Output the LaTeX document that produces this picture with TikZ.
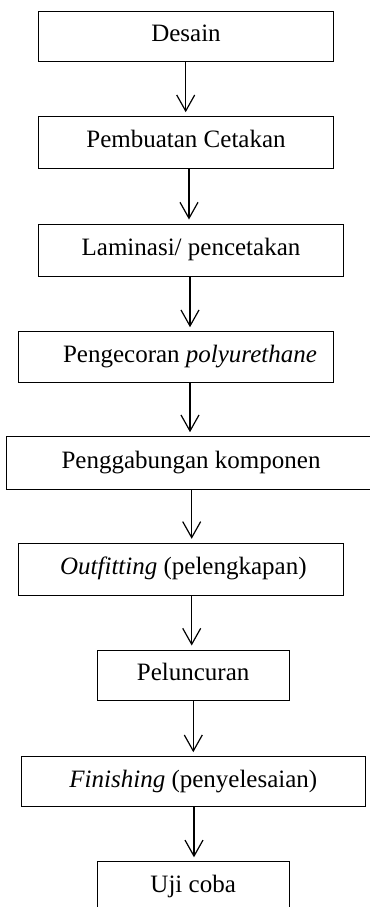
\documentclass[tikz,border=0pt]{standalone}
\usepackage{fontspec}
\setmainfont{Liberation Serif}
\usetikzlibrary{arrows.meta}
\tikzset{
  box/.style={draw, line width=0.75pt, inner sep=0pt, font=\fontsize{18.75pt}{22pt}\selectfont, text height=0.8em, text depth=0pt},
  bx/.style 2 args={minimum width=#1*0.75pt, minimum height=#2*0.75pt},
  arr/.style={line width=0.9pt, -{Straight Barb[length=12pt, width=13.5pt, line width=0.9pt]}, shorten >=3pt}
}
\begin{document}
\begin{tikzpicture}[x=0.75pt, y=-0.75pt]
\useasboundingbox (0,0) rectangle (370,907);
\clip (0,0) rectangle (370,907);
\node[box, bx={294.6}{50}]   (n1) at (186,36)        {Desain};
\node[box, bx={294.6}{51.6}] (n2) at (186,142.5)     {Pembuatan Cetakan};
\node[box, bx={304.6}{52}]   (n3) at (191,250)       {Laminasi/ pencetakan};
\node[box, bx={315}{50.6}]   (n4) at (175.8,357)     {\hspace*{21.3pt}Pengecoran \textit{polyurethane}};
\node[box, bx={368.3}{52.3}] (n5) at (191,462.85)    {Penggabungan komponen};
\node[box, bx={325}{51.7}]   (n6) at (180.8,569.15)  {\hspace*{3.8pt}\textit{Outfitting} (pelengkapan)};
\node[box, bx={191.7}{50.7}] (n7) at (193.15,675.35) {Peluncuran};
\node[box, bx={343.3}{50}]   (n8) at (193.35,781.7)  {\textit{Finishing} (penyelesaian)};
\node[box, bx={191.7}{50.4}] (n9) at (193.15,887)    {Uji coba};
\coordinate (a1) at (185.7,0);
\coordinate (a2) at (189,0);
\coordinate (a3) at (190,0);
\coordinate (a4) at (190,0);
\coordinate (a5) at (191.7,0);
\coordinate (a6) at (191.7,0);
\coordinate (a7) at (193.3,0);
\coordinate (a8) at (194,0);
\draw[arr] (n1.south -| a1) -- (n2.north -| a1);
\draw[arr] (n2.south -| a2) -- (n3.north -| a2);
\draw[arr] (n3.south -| a3) -- (n4.north -| a3);
\draw[arr] (n4.south -| a4) -- (n5.north -| a4);
\draw[arr] (n5.south -| a5) -- (n6.north -| a5);
\draw[arr] (n6.south -| a6) -- (n7.north -| a6);
\draw[arr] (n7.south -| a7) -- (n8.north -| a7);
\draw[arr] (n8.south -| a8) -- (n9.north -| a8);
\end{tikzpicture}
\end{document}
